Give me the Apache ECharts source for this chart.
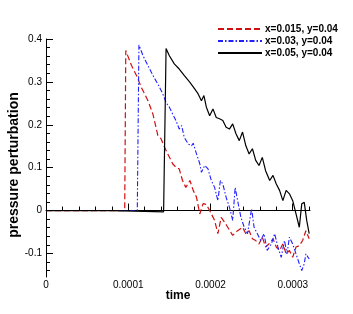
<!DOCTYPE html>
<html><head><meta charset="utf-8">
<script src="https://cdn.jsdelivr.net/npm/echarts@6/dist/echarts.min.js"></script>
<style>html,body{margin:0;padding:0;background:#fff}#c{width:353px;height:314px}</style>
</head><body><div id="c"></div>
<script>
var seriesNames = ['x=0.015, y=0.04', 'x=0.03, y=0.04', 'x=0.05, y=0.04'];
var xTickValues = [0, 0.0001, 0.0002, 0.0003];
var xTickLabels = ['0', '0.0001', '0.0002', '0.0003'];
var yTickValues = [-0.1, 0, 0.1, 0.2, 0.3, 0.4];
var yTickLabels = ['-0.1', '0', '0.1', '0.2', '0.3', '0.4'];
var xMinorValues = [0.00002,0.00004,0.00006,0.00008,0.00012,0.00014,0.00016,0.00018,0.00022,0.00024,0.00026,0.00028,0.00032];
var yMinorValues = [-0.14,-0.12,-0.08,-0.06,-0.04,-0.02,0.02,0.04,0.06,0.08,0.12,0.14,0.16,0.18,0.22,0.24,0.26,0.28,0.32,0.34,0.36,0.38];

var redTime = [0,0.0000957,0.0000970,0.000104,0.000110,0.000116,0.000124,0.000130,0.000136,0.000140,0.000144,0.000148,0.000152,0.000154,0.000158,0.000162,0.000166,0.000170,0.000175,0.000179,0.000183,0.000187,0.000191,0.000195,0.000199,0.000205,0.000209,0.000213,0.000217,0.000221,0.000227,0.000233,0.000239,0.000243,0.000247,0.000251,0.000255,0.000259,0.000263,0.000267,0.000271,0.000276,0.000280,0.000284,0.000288,0.000292,0.000296,0.000300,0.000304,0.000308,0.000312,0.000316,0.000320];
var redValue = [0,0,0.373,0.338,0.315,0.287,0.256,0.225,0.175,0.167,0.148,0.132,0.117,0.109,0.101,0.097,0.070,0.054,0.070,0.047,0.031,-0.008,0.016,0.014,0.000,-0.023,-0.054,-0.016,-0.027,-0.039,-0.058,-0.047,-0.039,-0.054,-0.047,-0.066,-0.070,-0.078,-0.062,-0.085,-0.078,-0.066,-0.085,-0.093,-0.078,-0.101,-0.093,-0.109,-0.085,-0.082,-0.070,-0.047,-0.066];

var blueTime = [0,0.000111,0.000113,0.000118,0.000124,0.000130,0.000136,0.000142,0.000146,0.000150,0.000154,0.000158,0.000162,0.000165,0.000168,0.000173,0.000177,0.000179,0.000183,0.000187,0.000189,0.000193,0.000197,0.000201,0.000205,0.000209,0.000212,0.000215,0.000219,0.000223,0.000227,0.000230,0.000233,0.000237,0.000241,0.000245,0.000250,0.000253,0.000257,0.000261,0.000265,0.000269,0.000274,0.000278,0.000282,0.000286,0.000290,0.000293,0.000296,0.000300,0.000304,0.000308,0.000311,0.000314,0.000316,0.000320];
var blueValue = [0,0,0.386,0.361,0.338,0.315,0.295,0.272,0.252,0.241,0.225,0.210,0.190,0.198,0.171,0.155,0.151,0.157,0.132,0.109,0.089,0.105,0.097,0.070,0.054,0.023,0.070,0.062,0.031,0.008,-0.023,0.054,0.023,-0.016,-0.039,-0.054,0.004,-0.039,-0.054,-0.070,-0.054,-0.093,-0.078,-0.054,-0.085,-0.109,-0.070,-0.101,-0.062,-0.078,-0.101,-0.124,-0.140,-0.124,-0.101,-0.113];

var blackTime = [0,0.000080,0.000120,0.000143,0.000144,0.000146,0.000150,0.000156,0.000162,0.000168,0.000175,0.000181,0.000185,0.000189,0.000192,0.000195,0.000199,0.000203,0.000207,0.000211,0.000215,0.000219,0.000223,0.000227,0.000231,0.000235,0.000239,0.000243,0.000247,0.000251,0.000255,0.000259,0.000263,0.000267,0.000272,0.000276,0.000280,0.000284,0.000288,0.000292,0.000296,0.000300,0.000304,0.000308,0.000311,0.000314,0.000317,0.000320];
var blackValue = [0,0,-0.002,-0.003,0,0.378,0.361,0.342,0.330,0.315,0.299,0.283,0.272,0.256,0.268,0.241,0.221,0.237,0.217,0.214,0.210,0.194,0.190,0.202,0.179,0.163,0.183,0.151,0.132,0.144,0.117,0.105,0.124,0.093,0.070,0.082,0.062,0.047,0.023,0.047,0.039,0.023,-0.008,-0.039,0.016,0.019,-0.023,-0.054];

function pairs(t, v) { return t.map(function (x, i) { return [x, v[i]]; }); }

var chart = echarts.init(document.getElementById('c'), null, {renderer: 'canvas'});
var tickFont = {color: '#000', fontSize: 10, fontFamily: 'Liberation Sans, Arial, sans-serif'};
var xMin = 0, xMax = 0.000321, yMin = -0.155, yMax = 0.4;
chart.setOption({
  animation: false,
  backgroundColor: '#fff',
  grid: {left: 46, right: 43, top: 39, bottom: 37, outerBoundsMode: 'none', containLabel: false},
  legend: {
    left: 212, top: 19, orient: 'vertical', itemWidth: 44, itemHeight: 10, itemGap: 2,
    itemStyle: {color: 'rgba(0,0,0,0)', borderWidth: 0, opacity: 0},
    textStyle: {color: '#000', fontSize: 10, fontWeight: 'bold', fontFamily: 'Liberation Sans, Arial, sans-serif', padding: [0, 0, 0, -2]},
    data: seriesNames
  },
  xAxis: [{
    type: 'value', min: xMin, max: xMax,
    name: 'time', nameLocation: 'middle', nameGap: 13, nameMoveOverlap: false,
    nameTextStyle: {color: '#000', fontSize: 12, fontWeight: 'bold', fontFamily: 'Liberation Sans, Arial, sans-serif'},
    axisLine: {show: true, lineStyle: {color: '#000', width: 1}},
    axisTick: {show: true, inside: true, length: 7, customValues: xTickValues, lineStyle: {color: '#000'}},
    axisLabel: {show: true, margin: 3, customValues: xTickValues,
      formatter: function (v) { var i = xTickValues.indexOf(v); return i >= 0 ? xTickLabels[i] : ''; }, ...tickFont},
    splitLine: {show: false}
  }, {
    type: 'value', min: xMin, max: xMax, position: 'bottom',
    axisLine: {show: false},
    axisTick: {show: true, inside: true, length: 4, customValues: xMinorValues, lineStyle: {color: '#000'}},
    axisLabel: {show: false},
    splitLine: {show: false}
  }],
  yAxis: [{
    type: 'value', min: yMin, max: yMax,
    name: 'pressure perturbation', nameLocation: 'middle', nameGap: 25, nameMoveOverlap: false,
    nameTextStyle: {color: '#000', fontSize: 14, fontWeight: 'bold', fontFamily: 'Liberation Sans, Arial, sans-serif', padding: [0, 14, 0, 0]},
    axisLine: {show: true, lineStyle: {color: '#000', width: 1}},
    axisTick: {show: true, inside: true, length: 7, customValues: yTickValues, lineStyle: {color: '#000'}},
    axisLabel: {show: true, margin: 4, customValues: yTickValues,
      formatter: function (v) { for (var i = 0; i < yTickValues.length; i++) { if (Math.abs(yTickValues[i] - v) < 1e-9) return yTickLabels[i]; } return ''; }, ...tickFont},
    splitLine: {show: false}
  }, {
    type: 'value', min: yMin, max: yMax, position: 'left',
    axisLine: {show: false},
    axisTick: {show: true, inside: true, length: 4, customValues: yMinorValues, lineStyle: {color: '#000'}},
    axisLabel: {show: false},
    splitLine: {show: false}
  }],
  series: [{
    name: seriesNames[0], type: 'line', symbol: 'none', showSymbol: false,
    data: pairs(redTime, redValue),
    itemStyle: {color: '#d01010'},
    lineStyle: {color: '#d01010', width: 1.2, type: [6, 3]}
  }, {
    name: seriesNames[1], type: 'line', symbol: 'none', showSymbol: false,
    data: pairs(blueTime, blueValue),
    itemStyle: {color: '#2020ff'},
    lineStyle: {color: '#2020ff', width: 1.1, type: [5, 2, 1.5, 2]}
  }, {
    name: seriesNames[2], type: 'line', symbol: 'none', showSymbol: false,
    data: pairs(blackTime, blackValue),
    itemStyle: {color: '#000'},
    lineStyle: {color: '#000', width: 1.2}
  }]
});
</script></body></html>
